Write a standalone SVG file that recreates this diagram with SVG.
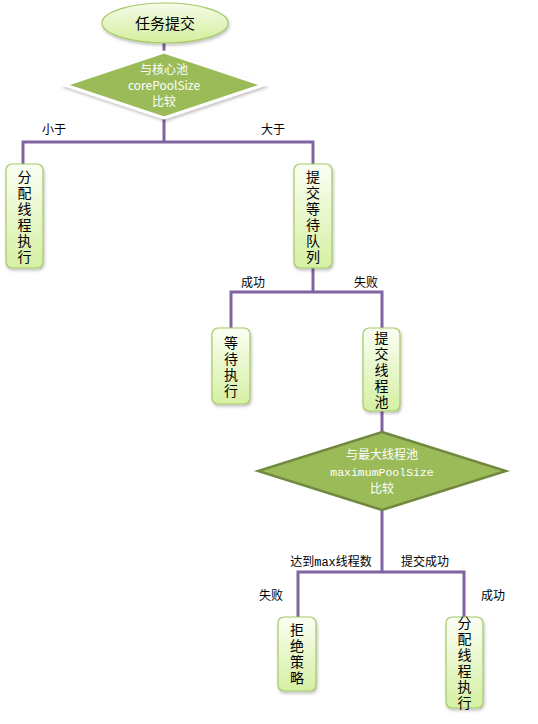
<svg xmlns="http://www.w3.org/2000/svg" width="538" height="724" viewBox="0 0 538 724">
<defs>
<linearGradient id="gBox" x1="0" y1="0" x2="0" y2="1">
<stop offset="0" stop-color="#FBFEF4"/>
<stop offset="1" stop-color="#D5F0A2"/>
</linearGradient>
<linearGradient id="gEll" x1="0" y1="0" x2="0" y2="1">
<stop offset="0" stop-color="#F6FBE8"/>
<stop offset="1" stop-color="#D3EE9C"/>
</linearGradient>
<filter id="sh" x="-30%" y="-30%" width="160%" height="160%">
<feDropShadow dx="1" dy="2" stdDeviation="1.5" flood-color="#000" flood-opacity="0.25"/>
</filter>
</defs>
<style>
.box{fill:url(#gBox);stroke:#A5C968;stroke-width:1.2;filter:url(#sh)}
.bt{font-family:"Noto Sans CJK SC","Liberation Sans",sans-serif;font-size:14px;fill:#000;text-anchor:middle}
.vt{font-family:"Noto Sans CJK SC","Liberation Sans",sans-serif;font-size:14px;fill:#000;writing-mode:vertical-rl;text-orientation:upright;letter-spacing:2px}
.lbl{font-family:"Noto Sans CJK SC","Liberation Sans",sans-serif;font-size:12px;fill:#000;text-anchor:middle}
.dt{font-family:"Noto Sans CJK SC","Liberation Sans",sans-serif;font-size:12px;fill:#fff;text-anchor:middle}
.mono{font-family:"Liberation Mono",monospace}
.ln{fill:none;stroke:#8064A2;stroke-width:3}
</style>
<g id="connectors">
<path class="ln" d="M164 43 V54"/>
<path class="ln" d="M164 116 V142 M23 164 V142 H313 V164"/>
<path class="ln" d="M313 268 V292 M231 328 V292 H382 V328"/>
<path class="ln" d="M382 411 V434"/>
<path class="ln" d="M382 509 V572 M298 617 V572 H464 V617"/>
</g>
<g id="n_start">
<ellipse cx="165" cy="23" rx="63" ry="20" fill="url(#gEll)" stroke="#A5C968" stroke-width="1.2" filter="url(#sh)"/>
<text class="bt" x="165" y="28.5" style="font-size:15px">任务提交</text>
</g>
<g id="n_cmp1">
<polygon points="164,52 263,85 164,118 65,85" fill="#9BBB59" stroke="#fff" stroke-width="3" filter="url(#sh)"/>
<text class="dt" x="164" y="74">与核心池</text>
<text class="dt" x="164" y="90">corePoolSize</text>
<text class="dt" x="164" y="106">比较</text>
</g>
<g id="labels1">
<text class="lbl" x="54" y="134">小于</text>
<text class="lbl" x="273" y="134">大于</text>
</g>
<g id="n_alloc1">
<rect class="box" x="6" y="164" width="37" height="104" rx="6"/>
<text class="vt" x="24.5" y="170">分配线程执行</text>
</g>
<g id="n_queue">
<rect class="box" x="294" y="164" width="38" height="104" rx="6"/>
<text class="vt" x="313" y="170">提交等待队列</text>
</g>
<g id="labels2">
<text class="lbl" x="253" y="287">成功</text>
<text class="lbl" x="366" y="287">失败</text>
</g>
<g id="n_wait">
<rect class="box" x="212" y="328" width="38" height="76" rx="6"/>
<text class="vt" x="231" y="336">等待执行</text>
</g>
<g id="n_pool">
<rect class="box" x="363" y="328" width="37" height="83" rx="6"/>
<text class="vt" x="381.5" y="331">提交线程池</text>
</g>
<g id="n_cmp2">
<polygon points="382,432 506,471 382,510 258,471" fill="#9BBB59" stroke="#71893F" stroke-width="2.5"/>
<text class="dt" x="382" y="459">与最大线程池</text>
<text class="dt mono" x="382" y="476" style="font-size:11.5px">maximumPoolSize</text>
<text class="dt" x="382" y="493">比较</text>
</g>
<g id="labels3">
<text class="lbl" x="331" y="566">达到<tspan class="mono">max</tspan>线程数</text>
<text class="lbl" x="425" y="566">提交成功</text>
<text class="lbl" x="271" y="600">失败</text>
<text class="lbl" x="493" y="600">成功</text>
</g>
<g id="n_reject">
<rect class="box" x="278" y="617" width="38" height="74" rx="6"/>
<text class="vt" x="297" y="623">拒绝策略</text>
</g>
<g id="n_alloc2">
<rect class="box" x="446" y="617" width="37" height="91" rx="6"/>
<text class="vt" x="464.5" y="616">分配线程执行</text>
</g>
</svg>
